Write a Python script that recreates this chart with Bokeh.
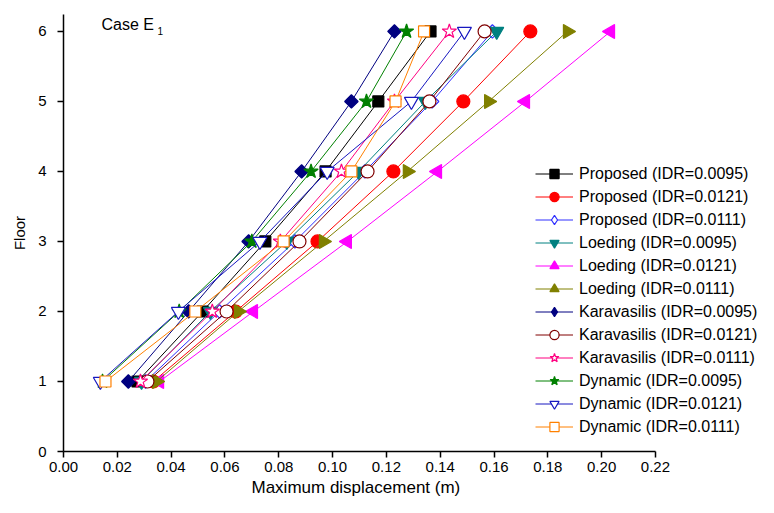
import numpy as np
from bokeh.plotting import figure
from bokeh.models import FixedTicker, Range1d, Label, Legend, NumeralTickFormatter, Title
from bokeh.embed import file_html
from bokeh.resources import INLINE

floors = [1, 2, 3, 4, 5, 6]

proposed_0095 = [0.0275, 0.0517, 0.0750, 0.0974, 0.1170, 0.1364]
proposed_0121 = [0.0334, 0.0640, 0.0944, 0.1226, 0.1486, 0.1735]
proposed_0111 = [0.0305, 0.0580, 0.0860, 0.1120, 0.1370, 0.1594]
loeding_0095 = [0.0290, 0.0546, 0.0830, 0.1097, 0.1345, 0.1610]
loeding_0121 = [0.0357, 0.0706, 0.1055, 0.1390, 0.1717, 0.2033]
loeding_0111 = [0.0346, 0.0650, 0.0966, 0.1278, 0.1580, 0.1873]
karav_0095 = [0.0241, 0.0465, 0.0688, 0.0885, 0.1070, 0.1230]
karav_0121 = [0.0312, 0.0606, 0.0877, 0.1130, 0.1360, 0.1565]
karav_0111 = [0.0286, 0.0553, 0.0806, 0.1033, 0.1230, 0.1434]
dynamic_0095 = [0.0145, 0.0430, 0.0700, 0.0920, 0.1126, 0.1275]
dynamic_0121 = [0.0137, 0.0427, 0.0730, 0.0980, 0.1293, 0.1490]
dynamic_0111 = [0.0156, 0.0490, 0.0818, 0.1070, 0.1234, 0.1340]

x_ticks = [0.00, 0.02, 0.04, 0.06, 0.08, 0.10, 0.12, 0.14, 0.16, 0.18, 0.20, 0.22]
y_ticks = [0, 1, 2, 3, 4, 5, 6]

# label, values, colour, marker, size, fill, angle, legend marker
series = [
    ("Proposed (IDR=0.0095)", proposed_0095, "#000000", "square", 11, "#000000", 0.0, None),
    ("Proposed (IDR=0.0121)", proposed_0121, "#FF0000", "circle", 13, "#FF0000", 0.0, None),
    ("Proposed (IDR=0.0111)", proposed_0111, "#3030FF", "square", 9.5, "#FFFFFF", np.pi / 4, "diamond"),
    ("Loeding (IDR=0.0095)", loeding_0095, "#008080", "inverted_triangle", 14, "#008080", 0.0, None),
    ("Loeding (IDR=0.0121)", loeding_0121, "#FF00FF", "triangle", 14, "#FF00FF", np.pi / 2, None),
    ("Loeding (IDR=0.0111)", loeding_0111, "#808000", "triangle", 14, "#808000", -np.pi / 2, None),
    ("Karavasilis (IDR=0.0095)", karav_0095, "#000080", "square", 9.5, "#000080", np.pi / 4, "diamond"),
    ("Karavasilis (IDR=0.0121)", karav_0121, "#800000", "circle", 13, "#FFFFFF", 0.0, None),
    ("Karavasilis (IDR=0.0111)", karav_0111, "#FF0080", "star", 15, "#FFFFFF", 0.0, None),
    ("Dynamic (IDR=0.0095)", dynamic_0095, "#008000", "star", 15, "#008000", 0.0, None),
    ("Dynamic (IDR=0.0121)", dynamic_0121, "#1818C0", "inverted_triangle", 14, "#FFFFFF", 0.0, None),
    ("Dynamic (IDR=0.0111)", dynamic_0111, "#FF8000", "square", 11, "#FFFFFF", 0.0, None),
]

FONT = "Liberation Sans"

p = figure(width=758, height=497, output_backend="svg", toolbar_location=None,
           x_range=Range1d(0, 0.2583), y_range=Range1d(0, 6.242),
           min_border_left=63, min_border_right=0, min_border_top=14, min_border_bottom=0)
p.outline_line_color = None
p.xgrid.visible = False
p.ygrid.visible = False
p.background_fill_color = "white"

items = []
for label, xs, color, marker, size, fill, ang, leg_marker in series:
    r1 = p.line(xs, floors, line_color=color, line_width=1)
    r2 = p.scatter(xs, floors, marker=marker, size=size, line_color=color,
                   fill_color=fill, line_width=1.2, angle=ang)
    if leg_marker is None:
        items.append((label, [r1, r2]))
    else:
        r3 = p.scatter(xs, floors, marker=leg_marker, size=size, line_color=color,
                       fill_color=fill, line_width=1.2, visible=False)
        items.append((label, [r1, r3]))

legend = Legend(items=items, location=(472, 13))
legend.border_line_alpha = 0
legend.background_fill_alpha = 0
legend.padding = 0
legend.margin = 0
legend.glyph_width = 38
legend.glyph_height = 23
legend.label_height = 23
legend.spacing = 0
legend.label_standoff = 6
legend.label_text_font = FONT
legend.label_text_font_size = "16px"
legend.label_text_color = "black"
p.add_layout(legend, "center")

xa = p.xaxis[0]
xa.ticker = FixedTicker(ticks=x_ticks, minor_ticks=[])
xa.bounds = (0, 0.22)
xa.formatter = NumeralTickFormatter(format="0.00")

ya = p.yaxis[0]
ya.ticker = FixedTicker(ticks=y_ticks, minor_ticks=[])
ya.axis_label = "Floor"

for ax in (xa, ya):
    ax.axis_line_color = "black"
    ax.axis_line_width = 1.5
    ax.major_tick_line_color = "black"
    ax.major_tick_line_width = 1.5
    ax.major_tick_out = 6
    ax.major_tick_in = 0
    ax.minor_tick_line_color = None
    ax.major_label_text_font = FONT
    ax.major_label_text_font_size = "15px"
    ax.major_label_text_color = "black"
    ax.axis_label_text_font = FONT
    ax.axis_label_text_font_style = "normal"
    ax.axis_label_text_color = "black"

ya.axis_label_text_font_size = "15px"
xa.major_label_standoff = 4
ya.major_label_standoff = 11
ya.axis_label_standoff = 7

xtitle = Title(text="Maximum displacement (m)", align="left", offset=188,
               text_font=FONT, text_font_size="17px", text_font_style="normal",
               text_color="black", standoff=2)
p.add_layout(xtitle, "below")

t1 = Label(x=38, y=436, x_units="screen", y_units="screen", text="Case E",
           text_font=FONT, text_font_size="16px", text_baseline="top", text_color="black")
t2 = Label(x=94, y=425, x_units="screen", y_units="screen", text="1",
           text_font=FONT, text_font_size="10px", text_baseline="top", text_color="black")
p.add_layout(t1)
p.add_layout(t2)

open("out.html", "w").write(file_html(p, INLINE))
